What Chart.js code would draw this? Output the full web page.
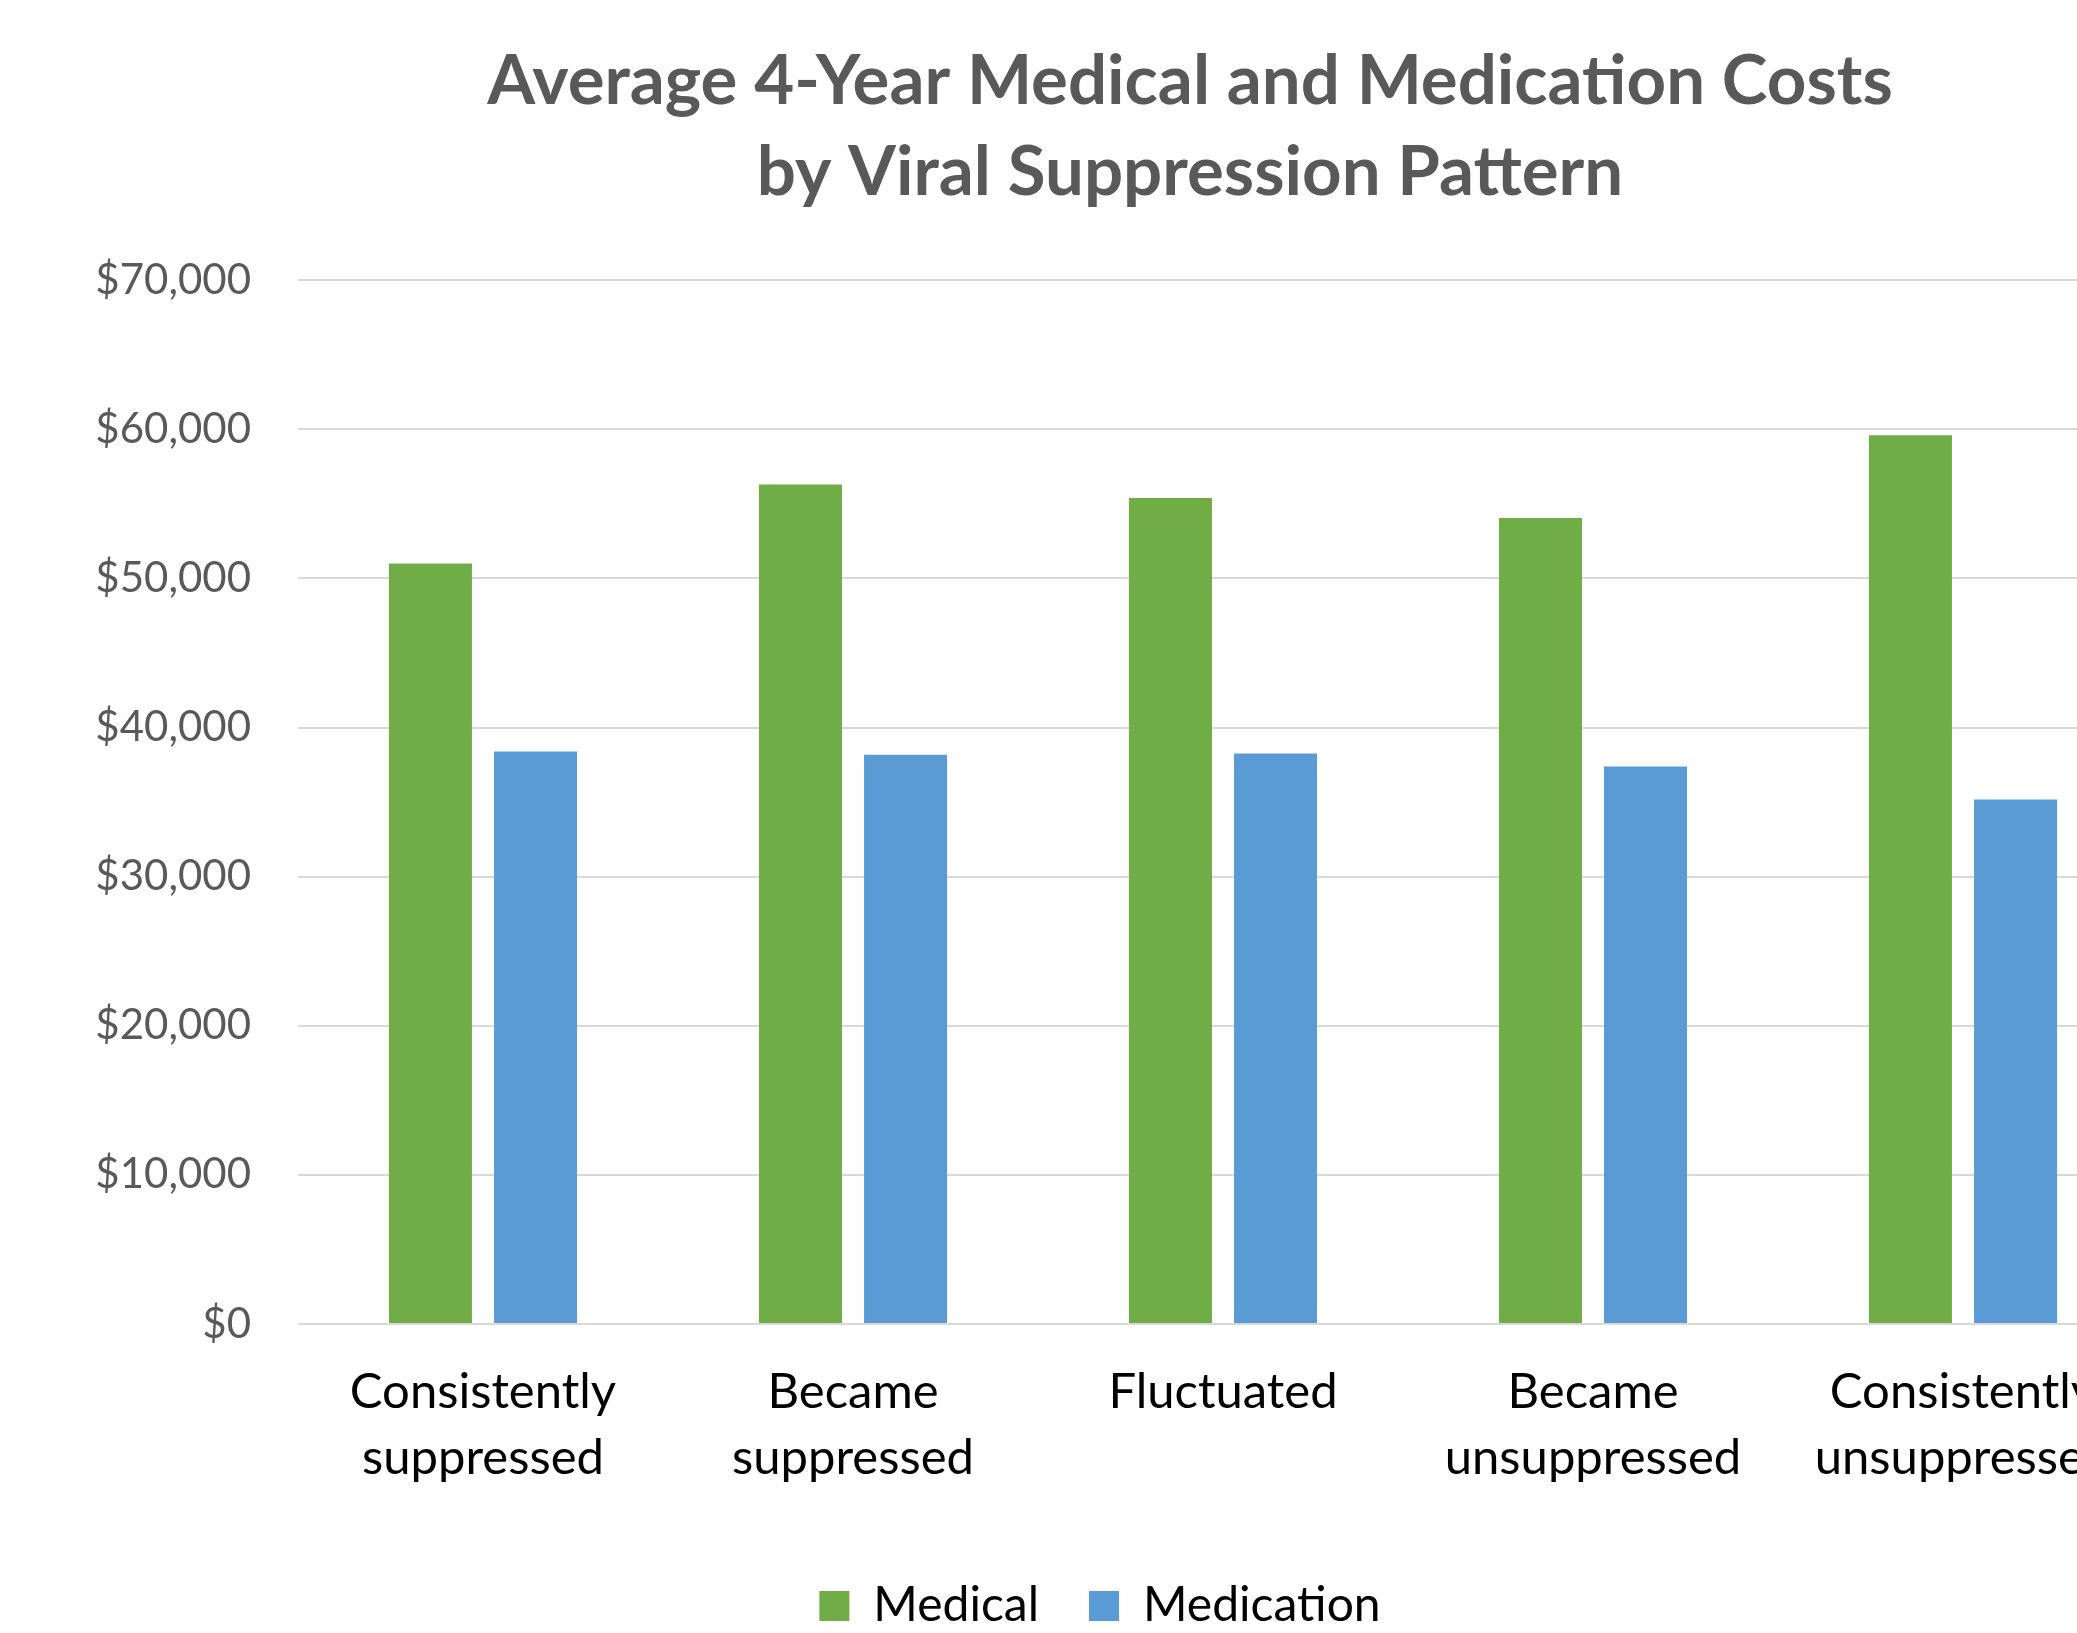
<!DOCTYPE html>
<html>
<head>
<meta charset="utf-8">
<title>Average 4-Year Medical and Medication Costs</title>
<script src="https://cdn.jsdelivr.net/npm/chart.js@4/dist/chart.umd.min.js"></script>
<style>
  html, body { margin: 0; padding: 0; background: #fff; overflow: hidden; width: 2077px; height: 1633px; }
  canvas { display: block; }
</style>
</head>
<body>
<canvas id="costChart" width="2380" height="1640"></canvas>
<script>
const categories = [
  ['Consistently', 'suppressed'],
  ['Became', 'suppressed'],
  ['Fluctuated'],
  ['Became', 'unsuppressed'],
  ['Consistently', 'unsuppressed']
];
const medical = [51000, 56300, 55400, 54050, 59600];
const medication = [38400, 38170, 38250, 37380, 35170];
const yTicks = [0, 10000, 20000, 30000, 40000, 50000, 60000, 70000];

Chart.defaults.font.family = 'Lato';

// the original is an Excel chart cropped on the right, so title and legend sit off-centre
const shiftBoxes = {
  id: 'shiftBoxes',
  afterLayout(chart) {
    chart.titleBlock.left += 116;
    chart.titleBlock.right += 116;
    chart.legend.left += 26;
    chart.legend.right += 26;
  }
};

const ctx = document.getElementById('costChart').getContext('2d');

new Chart(ctx, {
  type: 'bar',
  data: {
    labels: categories,
    datasets: [
      {
        label: 'Medical',
        data: medical,
        backgroundColor: '#70AD47',
        borderWidth: 0,
        categoryPercentage: 0.568,
        barPercentage: 0.79
      },
      {
        label: 'Medication',
        data: medication,
        backgroundColor: '#5B9BD5',
        borderWidth: 0,
        categoryPercentage: 0.568,
        barPercentage: 0.79
      }
    ]
  },
  options: {
    responsive: false,
    animation: false,
    layout: { padding: { left: 0, right: 232, top: 0, bottom: 0 } },
    plugins: {
      title: {
        display: true,
        text: ['Average 4-Year Medical and Medication Costs', 'by Viral Suppression Pattern'],
        color: '#595959',
        font: { size: 69, weight: 'bold', lineHeight: 1.32 },
        padding: { top: 36, bottom: 62 }
      },
      legend: {
        position: 'bottom',
        labels: {
          boxWidth: 30,
          boxHeight: 30,
          padding: 50,
          color: '#000',
          font: { size: 48 }
        }
      },
      tooltip: { enabled: false }
    },
    scales: {
      x: {
        grid: { display: false, drawTicks: false },
        border: { display: false },
        ticks: {
          color: '#000',
          font: { size: 49, lineHeight: 1.33 },
          padding: 36,
          maxRotation: 0,
          autoSkip: false
        },
        afterFit(scale) { scale.height = 208; }
      },
      y: {
        min: 0,
        max: 70000,
        afterBuildTicks(scale) { scale.ticks = yTicks.map(v => ({ value: v })); },
        grid: { color: '#D9D9D9', lineWidth: 2, drawTicks: false },
        border: { display: false },
        ticks: {
          color: '#595959',
          font: { size: 42 },
          padding: 47,
          callback: v => '$' + Number(v).toLocaleString('en-US')
        },
        afterFit(scale) { scale.width = 298; }
      }
    }
  },
  plugins: [shiftBoxes]
});
</script>
</body>
</html>
